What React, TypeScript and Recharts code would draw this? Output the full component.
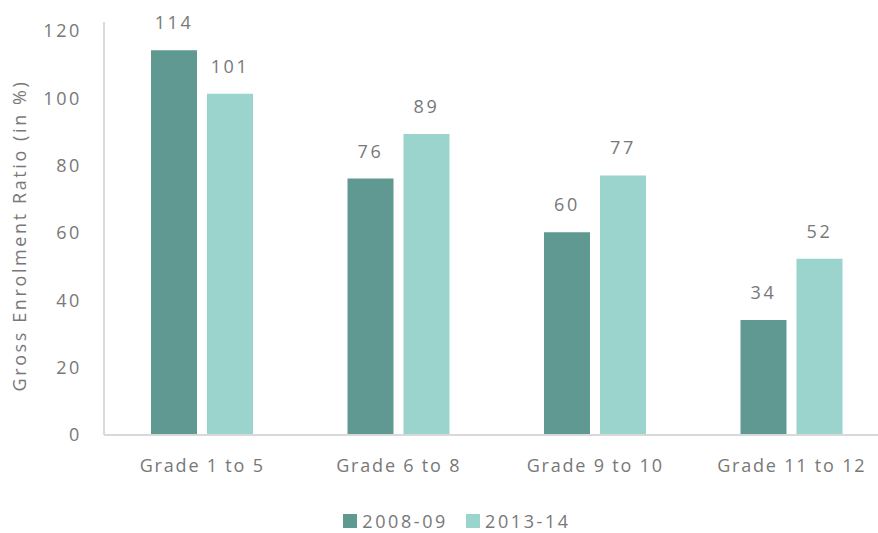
import { BarChart, Bar, XAxis, YAxis, Legend, LabelList } from "recharts";

// 学年区分
const grades = ["Grade 1 to 5", "Grade 6 to 8", "Grade 9 to 10", "Grade 11 to 12"];
// 総就学率（%）
const ger2008 = [114.3, 76.2, 60.2, 34.2];
const ger2013 = [101.4, 89.4, 77.1, 52.4];
const yTicks = [0, 20, 40, 60, 80, 100, 120];

const DARK = "#5f9991";
const LIGHT = "#9bd3cd";
const TEXT = "#787878";
const FONT = "'Open Sans', sans-serif";
const FS = 18;

const data = grades.map((g, i) => ({
  grade: g,
  y2008: ger2008[i],
  y2013: ger2013[i],
}));

const renderLegend = () => (
  <div
    style={{
      display: "flex",
      justifyContent: "center",
      alignItems: "center",
      fontFamily: FONT,
      fontSize: FS,
      lineHeight: "18px",
      color: TEXT,
      letterSpacing: 2.6,
    }}
  >
    {[
      { name: "2008-09", color: DARK },
      { name: "2013-14", color: LIGHT },
    ].map((item) => (
      <span
        key={item.name}
        style={{ display: "flex", alignItems: "center", margin: "0 9px" }}
      >
        <span
          style={{
            width: 14,
            height: 14,
            background: item.color,
            display: "inline-block",
            marginRight: 5,
          }}
        />
        {item.name}
      </span>
    ))}
  </div>
);

const labelStyle = { fill: TEXT, fontSize: FS, fontFamily: FONT, letterSpacing: 2.6 };

export default function App() {
  return (
    <div
      style={{
        position: "absolute",
        left: 0,
        top: 0,
        width: 878,
        height: 533,
        overflow: "hidden",
        background: "#fff",
      }}
    >
      <BarChart
        width={890}
        height={533}
        data={data}
        margin={{ top: 22, right: 0, left: 0, bottom: 48 }}
        barGap={10}
        barSize={46}
      >
        <XAxis
          dataKey="grade"
          axisLine={{ stroke: "#d9d9d9", strokeWidth: 2 }}
          tickLine={false}
          tickSize={0}
          tickMargin={24}
          height={50}
          tick={{ fill: TEXT, fontSize: FS, fontFamily: FONT, letterSpacing: 1.8 }}
        />
        <YAxis
          domain={[0, 122.7]}
          ticks={yTicks}
          width={104}
          axisLine={{ stroke: "#d9d9d9", strokeWidth: 2 }}
          tickLine={false}
          tickSize={0}
          tickMargin={22}
          tick={{ fill: TEXT, fontSize: FS, fontFamily: FONT, letterSpacing: 2.6 }}
          label={{
            content: ({ viewBox }: any) => {
              const cy = viewBox.y + viewBox.height / 2 + 7;
              return (
                <text
                  x={19}
                  y={cy}
                  transform={`rotate(-90, 19, ${cy})`}
                  textAnchor="middle"
                  dominantBaseline="central"
                  fill={TEXT}
                  fontSize={FS}
                  fontFamily={FONT}
                  style={{ letterSpacing: 2.6 }}
                >
                  Gross Enrolment Ratio (in %)
                </text>
              );
            },
          }}
        />
        <Legend
          verticalAlign="middle"
          align="center"
          content={renderLegend}
          wrapperStyle={{ top: 512, left: 12, width: 890 }}
        />
        <Bar dataKey="y2008" name="2008-09" fill={DARK} isAnimationActive={false}>
          <LabelList
            dataKey="y2008"
            position="top"
            offset={21}
            formatter={(v: any) => Math.round(Number(v))}
            style={labelStyle}
          />
        </Bar>
        <Bar dataKey="y2013" name="2013-14" fill={LIGHT} isAnimationActive={false}>
          <LabelList
            dataKey="y2013"
            position="top"
            offset={21}
            formatter={(v: any) => Math.round(Number(v))}
            style={labelStyle}
          />
        </Bar>
      </BarChart>
    </div>
  );
}
